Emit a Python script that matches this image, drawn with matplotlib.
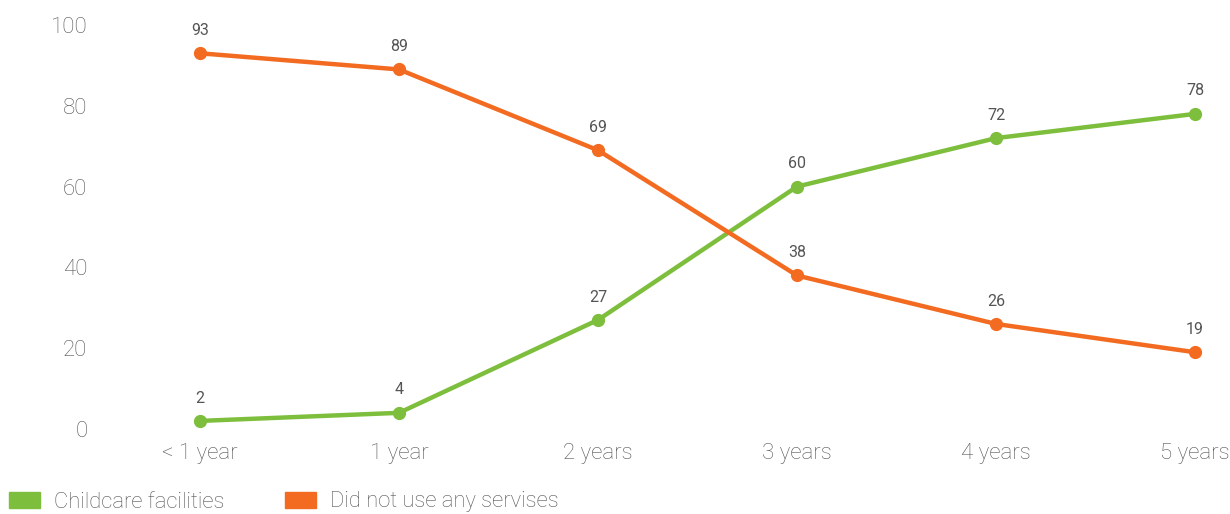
import matplotlib.pyplot as plt
from matplotlib.patches import Patch

# age of child vs share of families (%)
ages = ["< 1 year", "1 year", "2 years", "3 years", "4 years", "5 years"]
childcare = [2, 4, 27, 60, 72, 78]
no_services = [93, 89, 69, 38, 26, 19]

green = "#7dbe3c"
orange = "#f26b21"

plt.rcParams['font.family'] = ['Roboto', 'DejaVu Sans']

fig = plt.figure(figsize=(12.3, 5.14), dpi=100)
ax = fig.add_axes([100 / 1230, 1 - 429 / 514, 1125 / 1230, 404 / 514])

x = list(range(len(ages)))
ax.plot(x, childcare, color=green, lw=3.2, marker="o", ms=8.5, clip_on=False, zorder=3)
ax.plot(x, no_services, color=orange, lw=3.2, marker="o", ms=8.5, clip_on=False, zorder=3)

for xi, v in zip(x, childcare):
    ax.annotate(str(v), (xi, v), xytext=(0, 16.5), textcoords="offset points",
                ha="center", va="center", fontsize=11.5, color="#555555")
for xi, v in zip(x, no_services):
    ax.annotate(str(v), (xi, v), xytext=(0, 16.5), textcoords="offset points",
                ha="center", va="center", fontsize=11.5, color="#555555")

ax.set_xlim((100 - 200) / 199, (1225 - 200) / 199)
ax.set_ylim(0, 100)
ax.set_xticks(x)
ax.set_xticklabels(ages)
ax.set_yticks([0, 20, 40, 60, 80, 100])
for s in ax.spines.values():
    s.set_visible(False)
ax.tick_params(length=0, labelsize=16, labelcolor="#555555")
ax.tick_params(axis="x", pad=10)
ax.tick_params(axis="y", pad=9)
for lab in ax.get_xticklabels() + ax.get_yticklabels():
    lab.set_fontweight("light")

handles = [Patch(color=green, label="Childcare facilities"),
           Patch(color=orange, label="Did not use any servises")]
leg = fig.legend(handles=handles, loc="center left", bbox_to_anchor=(0.0, 1 - 502 / 514),
                 ncol=2, frameon=False, fontsize=15.8, handlelength=1.42, handleheight=0.73,
                 handletextpad=0.64, columnspacing=2.74, borderaxespad=0.0)
for t in leg.get_texts():
    t.set_color("#555555")
    t.set_fontweight("light")

fig.savefig("out.png", dpi=100)
